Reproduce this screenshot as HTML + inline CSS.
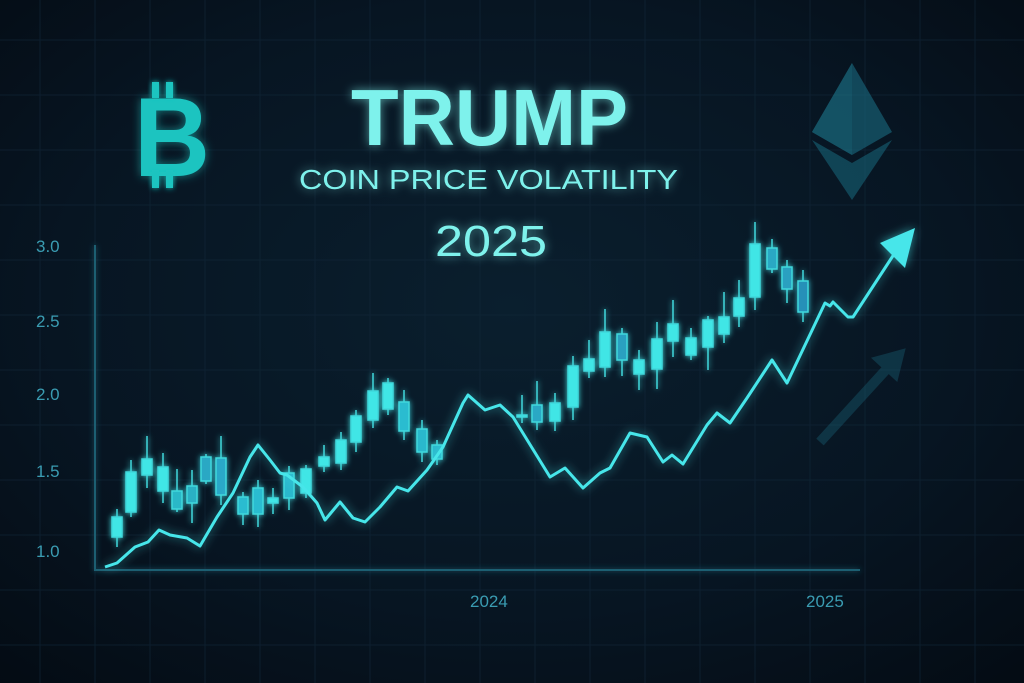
<!DOCTYPE html>
<html><head><meta charset="utf-8"><style>
html,body{margin:0;padding:0;background:#06111c}
svg{display:block}
</style></head><body>
<svg width="1024" height="683" viewBox="0 0 1024 683" xmlns="http://www.w3.org/2000/svg">
<defs>
<radialGradient id="bg" cx="0.5" cy="0.45" r="0.75">
<stop offset="0" stop-color="#0a1f2e"/><stop offset="0.6" stop-color="#071522"/><stop offset="1" stop-color="#040b13"/>
</radialGradient>
<filter id="glow" x="-20%" y="-20%" width="140%" height="140%"><feGaussianBlur stdDeviation="3" result="b"/><feMerge><feMergeNode in="b"/><feMergeNode in="SourceGraphic"/></feMerge></filter>
<filter id="glow2" x="-20%" y="-20%" width="140%" height="140%"><feGaussianBlur stdDeviation="5" result="b"/><feComponentTransfer in="b" result="c"><feFuncA type="linear" slope="0.6"/></feComponentTransfer><feMerge><feMergeNode in="c"/><feMergeNode in="SourceGraphic"/></feMerge></filter>
</defs>
<rect width="1024" height="683" fill="url(#bg)"/>
<g stroke="#12283a" stroke-width="1" opacity="0.6">
<path d="M40 0V683M95 0V683M150 0V683M205 0V683M260 0V683M315 0V683M370 0V683M425 0V683M480 0V683M535 0V683M590 0V683M645 0V683M700 0V683M755 0V683M810 0V683M865 0V683M920 0V683M975 0V683"/>
<path d="M0 40H1024M0 95H1024M0 150H1024M0 205H1024M0 260H1024M0 315H1024M0 370H1024M0 425H1024M0 480H1024M0 535H1024M0 590H1024M0 645H1024"/>
</g>
<path d="M95 245V570H860" fill="none" stroke="#1f5f72" stroke-width="2" filter="url(#glow)"/>
<g font-family="Liberation Sans, sans-serif" font-size="17" fill="#3a9cb2">
<text x="36" y="252">3.0</text><text x="36" y="327">2.5</text><text x="36" y="400">2.0</text><text x="36" y="477">1.5</text><text x="36" y="557">1.0</text>
<text x="470" y="607">2024</text><text x="806" y="607">2025</text>
</g>
<g font-family="Liberation Sans, sans-serif" fill="#7ef2ec" filter="url(#glow2)">
<text x="351" y="145" font-size="80" font-weight="bold" textLength="277" lengthAdjust="spacingAndGlyphs">TRUMP</text>
<text x="299" y="189" font-size="28" textLength="379" lengthAdjust="spacingAndGlyphs">COIN PRICE VOLATILITY</text>
<text x="435" y="256" font-size="44" textLength="112" lengthAdjust="spacingAndGlyphs">2025</text>
<text x="134" y="176" font-size="112" font-weight="bold" fill="#1fc4c0" textLength="76" lengthAdjust="spacingAndGlyphs">B</text>
</g>
<g fill="#1fc4c0" filter="url(#glow)"><rect x="152" y="82" width="7" height="16"/><rect x="166" y="82" width="7" height="16"/><rect x="152" y="172" width="7" height="16"/><rect x="166" y="172" width="7" height="16"/></g>
<g opacity="0.6">
<polygon points="852,63 892,132 852,155 812,132" fill="#1a6a80"/>
<polygon points="852,63 852,155 812,132" fill="#1e7a90"/>
<polygon points="812,140 852,163 892,140 852,200" fill="#176276"/>
</g>
<g opacity="0.35" fill="#1d6b80" stroke="#1d6b80"><path d="M820 442 L893 362" stroke-width="10"/><polygon points="905,349 872,358 897,381"/></g>
<g filter="url(#glow)" stroke="#3fd8dc" stroke-width="1.5">
<g fill="#3fe6e6">
<path d="M117 509V547M131 460V517M147 436V488M163 453V503M177 469V512M192 470V523M206 454V484M221 436V505M243 492V525M258 480V527M273 488V514M289 466V510M306 465V498M324 445V472M341 432V470M356 410V452M373 373V428M388 378V415M404 390V440M422 420V462M437 440V465M522 395V423M537 381V430M555 393V431M573 356V420M589 340V378M605 309V377M622 328V376M639 350V390M657 322V389M673 300V357M691 328V360M708 316V370M724 292V343M739 280V327M755 222V310M772 239V273M787 260V303M803 270V322" fill="none"/>
<rect x="112" y="517" width="10" height="20"/><rect x="126" y="472" width="10" height="40"/><rect x="142" y="459" width="10" height="16"/><rect x="158" y="467" width="10" height="24"/>
<rect x="172" y="491" width="10" height="18" fill="#2bb8c8"/><rect x="187" y="486" width="10" height="17" fill="#2bb0c4"/><rect x="201" y="457" width="10" height="24" fill="#2aa8c4"/><rect x="216" y="458" width="10" height="37" fill="#2aa8c8"/>
<rect x="238" y="497" width="10" height="17" fill="#2bbcd0"/><rect x="253" y="488" width="10" height="26" fill="#2bbcd0"/><rect x="268" y="498" width="10" height="5"/><rect x="284" y="473" width="10" height="25" fill="#2bb8cc"/><rect x="301" y="469" width="10" height="24"/>
<rect x="319" y="457" width="10" height="9"/><rect x="336" y="440" width="10" height="23"/><rect x="351" y="416" width="10" height="26"/><rect x="368" y="391" width="10" height="29"/><rect x="383" y="383" width="10" height="26"/><rect x="399" y="402" width="10" height="29" fill="#2bbcd0"/><rect x="417" y="429" width="10" height="23" fill="#2bb8cc"/><rect x="432" y="445" width="10" height="14" fill="#2bb8cc"/>
<rect x="517" y="415" width="10" height="2"/><rect x="532" y="405" width="10" height="17" fill="#2aa8c4"/><rect x="550" y="403" width="10" height="18"/><rect x="568" y="366" width="10" height="41"/><rect x="584" y="359" width="10" height="12"/><rect x="600" y="332" width="10" height="35"/><rect x="617" y="334" width="10" height="26" fill="#2aa0c0"/><rect x="634" y="360" width="10" height="14"/><rect x="652" y="339" width="10" height="30"/><rect x="668" y="324" width="10" height="17"/><rect x="686" y="338" width="10" height="17"/><rect x="703" y="320" width="10" height="27"/><rect x="719" y="317" width="10" height="17"/><rect x="734" y="298" width="10" height="18"/><rect x="750" y="244" width="10" height="53"/><rect x="767" y="248" width="10" height="21" fill="#2aa8c4"/><rect x="782" y="267" width="10" height="22" fill="#2aa0c0"/><rect x="798" y="281" width="10" height="31" fill="#2890b8"/>
</g></g>
<g filter="url(#glow2)">
<polyline fill="none" stroke="#46e6ea" stroke-width="3" stroke-linejoin="round" points="105,567 117,563 135,547 148,542 159,530 170,535 187,538 200,546 217,517 233,493 250,457 258,445 270,460 280,473 287,475 303,487 317,503 325,520 340,502 353,518 365,522 380,507 397,487 408,491 427,470 443,447 463,403 468,395 485,410 500,405 513,417 550,477 565,468 583,488 600,473 610,468 630,433 647,437 663,462 672,455 683,464 707,425 717,413 730,423 747,398 772,360 787,383 825,303 830,306 833,302 848,317 853,317 900,245"/>
<polygon points="915,228 880,243 905,268" fill="#46e6ea"/>
</g>
</svg>
</body></html>
